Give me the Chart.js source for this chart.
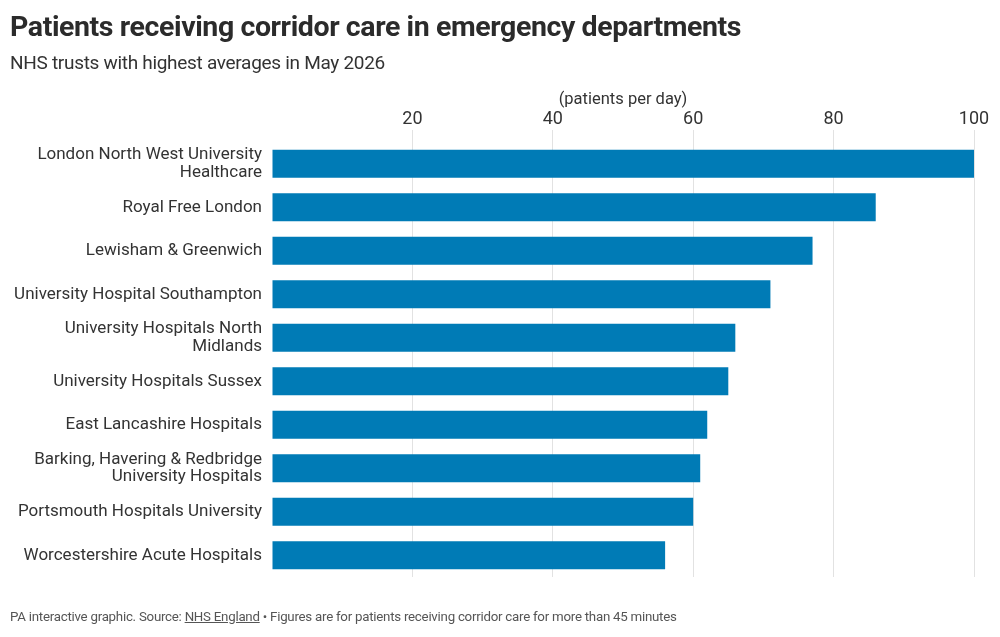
<!DOCTYPE html>
<html><head><meta charset="utf-8">
<script src="https://cdn.jsdelivr.net/npm/chart.js@4/dist/chart.umd.min.js"></script>
<style>
html,body{margin:0;padding:0;background:#fff;width:1000px;height:637px;overflow:hidden;font-family:Roboto,"Noto Sans",sans-serif;}
#wrap{position:absolute;left:0;top:0;width:1000px;height:637px;}
#title{position:absolute;left:10px;top:10px;font-size:28.5px;font-weight:700;color:#2b2b2b;letter-spacing:-0.4px;white-space:nowrap;}
#sub{position:absolute;left:10px;top:51px;font-size:19px;color:#333;letter-spacing:-0.3px;white-space:nowrap;}
#foot{position:absolute;left:10px;top:609px;font-size:13.3px;color:#555;letter-spacing:-0.25px;white-space:nowrap;}
#foot u{text-decoration:underline;}
</style></head>
<body>
<div id="wrap"><canvas id="c" width="1000" height="637"></canvas></div>
<div id="title">Patients receiving corridor care in emergency departments</div>
<div id="sub">NHS trusts with highest averages in May 2026</div>
<div id="foot">PA interactive graphic. Source: <u>NHS England</u> • Figures are for patients receiving corridor care for more than 45 minutes</div>
<script>
const categories = [
  ["London North West University", "Healthcare"],
  "Royal Free London",
  "Lewisham & Greenwich",
  "University Hospital Southampton",
  ["University Hospitals North", "Midlands"],
  "University Hospitals Sussex",
  "East Lancashire Hospitals",
  ["Barking, Havering & Redbridge", "University Hospitals"],
  "Portsmouth Hospitals University",
  "Worcestershire Acute Hospitals"
];
const patientsPerDay = [100, 86, 77, 71, 66, 65, 62, 61, 60, 56];
const xTicks = [20, 40, 60, 80, 100];
const axisTitle = "(patients per day)";

new Chart(document.getElementById('c'), {
  type: 'bar',
  data: {
    labels: categories,
    datasets: [{
      data: patientsPerDay,
      backgroundColor: '#007bb6',
      borderWidth: 0,
      barPercentage: 0.645,
      categoryPercentage: 1.0
    }]
  },
  options: {
    indexAxis: 'y',
    responsive: false,
    animation: false,
    layout: { padding: { left: 0, right: 26, top: 80, bottom: 60 } },
    plugins: { legend: { display: false }, tooltip: { enabled: false } },
    scales: {
      x: {
        position: 'top',
        min: 0, max: 100,
        afterBuildTicks: (s) => { s.ticks = [0].concat(xTicks).map(v => ({ value: v })); },
        afterFit: (s) => { s.height = 62; },
        border: { display: false },
        grid: {
          color: (ctx) => (ctx.tick && ctx.tick.value === 0) ? 'rgba(0,0,0,0)' : '#e2e2e2',
          lineWidth: 1,
          drawTicks: true,
          tickLength: 12,
          tickColor: (ctx) => (ctx.tick && ctx.tick.value === 0) ? 'rgba(0,0,0,0)' : '#e2e2e2'
        },
        ticks: {
          padding: 0,
          color: '#333',
          font: { family: 'Roboto', size: 18 },
          callback: (v) => v === 0 ? '' : String(v),
          maxRotation: 0
        },
        title: {
          display: true,
          text: axisTitle,
          color: '#333',
          font: { family: 'Roboto', size: 16.5 },
          padding: { top: 10, bottom: 0 }
        }
      },
      y: {
        afterFit: (s) => { s.width = 272; },
        border: { display: false },
        grid: { display: false, drawTicks: false },
        ticks: {
          padding: 10,
          color: '#333',
          font: { family: 'Roboto', size: 17, lineHeight: 1.05 },
          crossAlign: 'near'
        }
      }
    }
  }
});
</script>
</body></html>
